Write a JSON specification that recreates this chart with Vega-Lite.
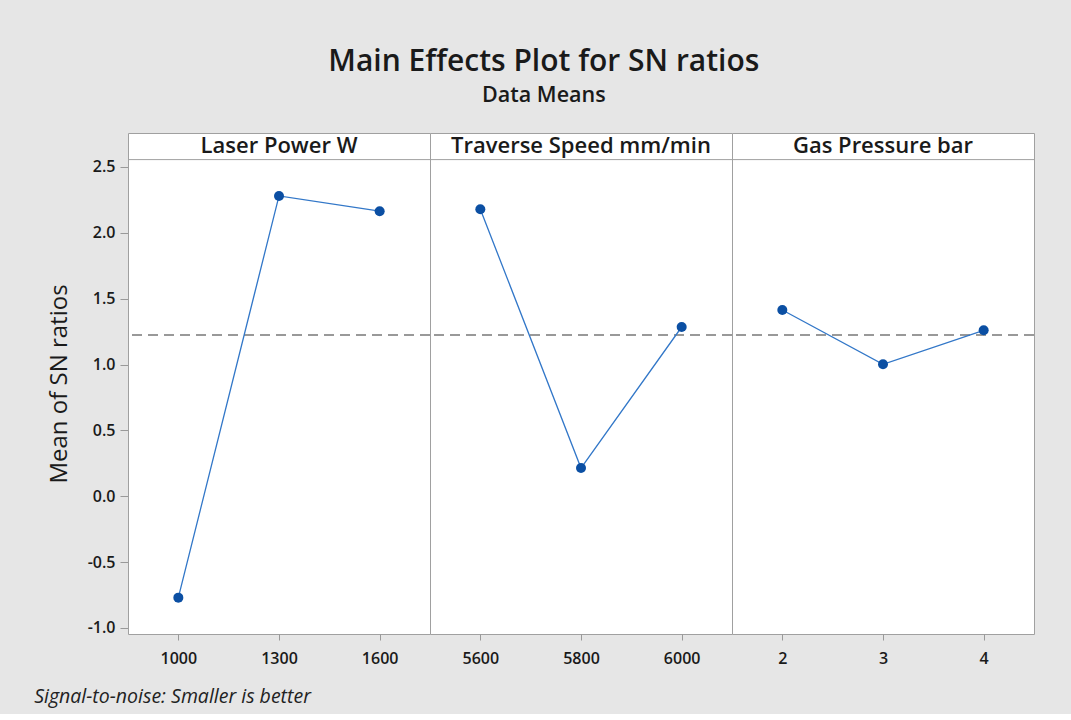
{
  "$schema": "https://vega.github.io/schema/vega-lite/v6.json",
  "background": "#e6e6e6",
  "padding": {"left": 34, "top": 47, "right": 35, "bottom": 8},
  "title": {
    "text": "Main Effects Plot for SN ratios",
    "subtitle": "Data Means",
    "anchor": "middle",
    "fontSize": 30,
    "fontWeight": 600,
    "color": "#1a1a1a",
    "subtitleFontSize": 21.5,
    "subtitleFontWeight": 600,
    "subtitleColor": "#1a1a1a",
    "subtitlePadding": 8,
    "offset": 26,
    "dx": 9
  },
  "data": {
    "values": [
      {"factor": "Laser Power W", "level": "1000", "idx": 1, "mean": -0.770},
      {"factor": "Laser Power W", "level": "1300", "idx": 2, "mean": 2.280},
      {"factor": "Laser Power W", "level": "1600", "idx": 3, "mean": 2.164},
      {"factor": "Traverse Speed mm/min", "level": "5600", "idx": 1, "mean": 2.179},
      {"factor": "Traverse Speed mm/min", "level": "5800", "idx": 2, "mean": 0.214},
      {"factor": "Traverse Speed mm/min", "level": "6000", "idx": 3, "mean": 1.285},
      {"factor": "Gas Pressure bar", "level": "2", "idx": 1, "mean": 1.414},
      {"factor": "Gas Pressure bar", "level": "3", "idx": 2, "mean": 1.002},
      {"factor": "Gas Pressure bar", "level": "4", "idx": 3, "mean": 1.260}
    ]
  },
  "vconcat": [
    {
      "title": {
        "text": "Signal-to-noise: Smaller is better",
        "orient": "bottom",
        "anchor": "start",
        "fontSize": 19.5,
        "fontStyle": "italic",
        "fontWeight": "normal",
        "color": "#222222",
        "offset": 21,
        "dx": -13
      },
      "facet": {
        "column": {
          "field": "factor",
          "type": "nominal",
          "sort": ["Laser Power W", "Traverse Speed mm/min", "Gas Pressure bar"],
          "header": {"labels": false, "title": null}
        }
      },
      "spacing": {"column": 0, "row": 0},
      "bounds": "flush",
      "resolve": {"scale": {"x": "independent"}},
      "spec": {
        "width": 302,
        "height": 501,
        "encoding": {
          "x": {
            "field": "level",
            "type": "ordinal",
            "scale": {"type": "point", "padding": 0.5},
            "axis": {
              "title": null,
              "labelAngle": 0,
              "domain": false,
              "ticks": true,
              "tickSize": 6,
              "tickColor": "#999999",
              "labelFontSize": 16,
              "labelFontWeight": 600,
              "labelColor": "#1a1a1a",
              "labelPadding": 10
            }
          },
          "y": {
            "field": "mean",
            "type": "quantitative",
            "scale": {"domain": [-1.046, 2.758], "nice": false, "zero": false},
            "axis": {
              "title": "Mean of SN ratios",
              "titleFontSize": 24,
              "titleFontWeight": "normal",
              "titleColor": "#1a1a1a",
              "titlePadding": 16,
              "values": [-1, -0.5, 0, 0.5, 1, 1.5, 2, 2.5],
              "labelExpr": "replace(format(datum.value, '.1f'), '\u2212', '-')",
              "grid": false,
              "domain": false,
              "tickSize": 8,
              "tickColor": "#999999",
              "labelFontSize": 16,
              "labelFontWeight": 600,
              "labelColor": "#1a1a1a",
              "labelPadding": 5
            }
          }
        },
        "layer": [
          {
            "transform": [{"filter": "datum.idx == 2"}],
            "mark": {"type": "rule", "color": "#999999", "strokeWidth": 2, "strokeDash": [10, 6]},
            "encoding": {"x": null, "y": {"datum": 1.225}}
          },
          {
            "transform": [{"filter": "datum.idx == 2"}],
            "mark": {"type": "rule", "color": "#a0a0a0", "strokeWidth": 1},
            "encoding": {"x": null, "y": {"datum": 2.556}}
          },
          {
            "mark": {"type": "line", "color": "#3277c8", "strokeWidth": 1.3}
          },
          {
            "mark": {"type": "point", "filled": true, "opacity": 1, "color": "#0b4fa3", "size": 100}
          },
          {
            "transform": [{"filter": "datum.idx == 2"}],
            "mark": {"type": "text", "fontSize": 22, "fontWeight": 600, "color": "#1a1a1a", "baseline": "middle"},
            "encoding": {"y": {"datum": 2.66}, "text": {"field": "factor"}}
          }
        ]
      }
    }
  ],
  "config": {
    "font": "Open Sans",
    "facet": {"spacing": 0},
    "view": {"stroke": "#a0a0a0", "fill": "white", "strokeWidth": 1}
  }
}
